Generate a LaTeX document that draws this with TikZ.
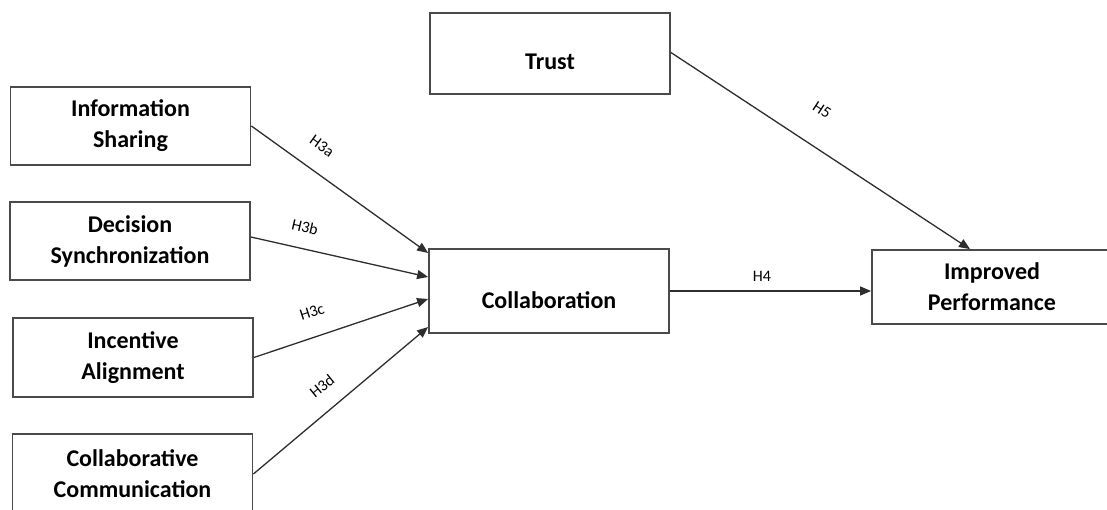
\documentclass[tikz,border=0pt]{standalone}
\usepackage{fontspec}
\setmainfont{Carlito}
\usetikzlibrary{arrows.meta}
\definecolor{boxgray}{HTML}{4A4A4A}
\definecolor{linegray}{HTML}{2E2E2E}
\begin{document}
\begin{tikzpicture}[x=1pt,y=-1pt,
  box/.style={draw=boxgray, line width=1.8pt, fill=white, minimum width=240pt, inner sep=0pt, align=center, font=\fontsize{24}{31}\selectfont\bfseries},
  boxtext/.style={font=\fontsize{24}{31}\selectfont\bfseries, inner sep=0pt},
  arr/.style={draw=linegray, line width=1.3pt, -{Triangle[length=11pt,width=9pt]}},
  lab/.style={font=\fontsize{16}{18}\selectfont, inner sep=0pt}]
\useasboundingbox (0,0) rectangle (1107,509);
\fill[white] (0,0) rectangle (1107,509);
\clip (0,0) rectangle (1107,509);

\node[box, minimum height=81pt, label={[boxtext, yshift=-8pt]center:Trust}] (T) at (550,53.5) {};
\node[box, minimum height=78pt] (IS) at (130.5,126) {Information\\Sharing};
\node[box, minimum height=78pt] (DS) at (130,241) {Decision\\Synchronization};
\node[box, minimum height=79pt] (IA) at (133,357.5) {Incentive\\Alignment};
\node[box, minimum height=80pt] (CC) at (132.5,474) {Collaborative\\Communication};
\node[box, minimum height=84pt, label={[boxtext, yshift=-9pt]center:Collaboration}] (C) at (549,291) {};
\node[box, minimum height=74pt] (IP) at (992,287) {Improved\\Performance};

\draw[arr] (IS.east) -- ([yshift=38pt]C.west);
\draw[arr] ([yshift=4pt]DS.east) -- ([yshift=14pt]C.west);
\draw[arr] (IA.east) -- ([yshift=-8pt]C.west);
\draw[arr] (CC.east) -- ([yshift=-36pt]C.west);
\draw[arr] (C.east) -- (C.east -| IP.west);
\draw[arr] ([yshift=1pt]T.east) -- ([xshift=-22pt]IP.north);

\node[lab, rotate=-36] (l3a) at (322,146) {H3a};
\node[lab, rotate=-13] (l3b) at (305,227) {H3b};
\node[lab, rotate=18] (l3c) at (312,312) {H3c};
\node[lab, rotate=39] (l3d) at (322,386) {H3d};
\node[lab] (l4) at (762,276) {H4};
\node[lab, rotate=-33] (l5) at (822,110) {H5};
\end{tikzpicture}
\end{document}
